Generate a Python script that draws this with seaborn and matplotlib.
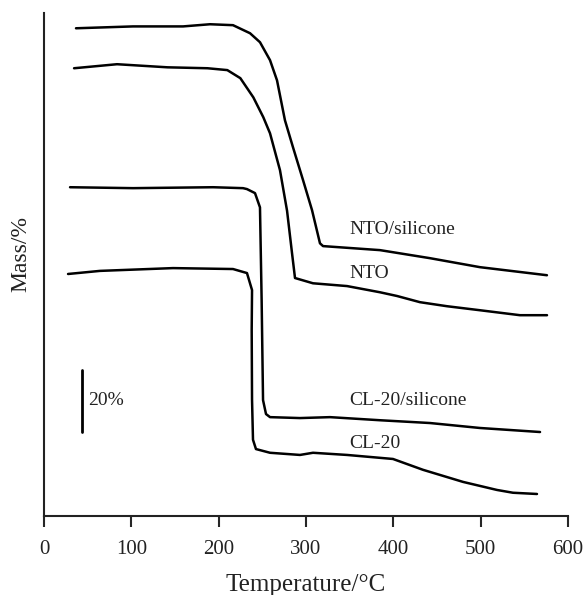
import numpy as np
import pandas as pd
import matplotlib
matplotlib.use("Agg")
import matplotlib.pyplot as plt
import seaborn as sns

# TG curves: temperature (°C) and mass (%) per sample
nto_si_temp = [36.6, 101.9, 159.2, 190.1, 216.4, 235.9, 247.3, 258.8, 266.8, 275.9,
               285.1, 296.6, 306.9, 316.0, 319.5, 384.7, 442.0, 499.2, 575.9]
nto_si_mass = [100.0, 100.6, 100.6, 101.3, 101.0, 98.4, 95.5, 89.7, 83.2, 70.3,
               61.6, 51.0, 41.3, 30.6, 29.7, 28.4, 25.8, 22.9, 20.3]

nto_temp = [34.4, 83.6, 141.4, 187.2, 209.9, 224.8, 239.7, 251.1, 258.8, 270.2,
            278.3, 284.0, 287.4, 308.0, 347.0, 384.7, 404.2, 430.5, 461.4, 499.2,
            545.0, 576.0]
nto_mass = [100.0, 101.3, 100.3, 100.0, 99.4, 96.8, 90.6, 84.2, 79.0, 67.1,
            54.0, 40.3, 32.3, 30.6, 29.7, 27.7, 26.5, 24.5, 23.2, 21.9,
            20.3, 20.3]

cl20_si_temp = [29.8, 101.9, 193.6, 227.9, 232.4, 241.6, 247.3, 249.2, 250.8, 254.2,
                258.8, 293.1, 327.5, 384.7, 442.0, 499.2, 568.0]
cl20_si_mass = [100.0, 99.7, 100.0, 99.7, 99.4, 98.1, 93.5, 63.5, 31.3, 26.8,
                25.8, 25.5, 25.8, 24.8, 23.9, 22.3, 21.0]

cl20_temp = [27.5, 64.1, 147.7, 216.4, 232.4, 238.2, 237.8, 238.2, 239.3, 242.7, 258.8,
             293.1, 308.0, 347.0, 399.6, 434.0, 479.8, 518.7, 537.0, 564.5]
cl20_mass = [100.0, 101.0, 101.9, 101.6, 100.3, 94.8, 81.9, 59.4, 46.5, 43.5, 42.3,
             41.6, 42.3, 41.6, 40.3, 36.8, 32.9, 30.3, 29.4, 29.0]

labels = ["NTO/silicone", "NTO", "CL-20/silicone", "CL-20"]
scale_bar = 20  # %

# vertical shift of each curve on the stacked plot
shifts = [57.4, 44.5, 6.1, -21.9]

curves = [(nto_si_temp, nto_si_mass), (nto_temp, nto_mass),
          (cl20_si_temp, cl20_si_mass), (cl20_temp, cl20_mass)]

sns.set_style("ticks")
plt.rcParams["font.family"] = ["Liberation Serif", "DejaVu Serif"]

fig = plt.figure(figsize=(5.87, 5.95), dpi=100)
ax = fig.add_axes([0.075, 0.1328, 0.8926, 0.8452])

for (t, m), name, dy in zip(curves, labels, shifts):
    df = pd.DataFrame({"temp": t, "mass": np.array(m) + dy})
    sns.lineplot(data=df, x="temp", y="mass", sort=False, estimator=None,
                 color="black", linewidth=1.8, ax=ax)

# curve labels
label_pos = [(350, 92.3), (350, 78.4), (350, 37.4), (350, 23.5)]
for name, (x, y) in zip(labels, label_pos):
    ax.text(x, y, name, fontsize=14, va="center", ha="left", color="#222222")

# 20 % scale bar
ax.plot([43.5, 43.5], [27.1, 27.1 + scale_bar], color="black", linewidth=2,
        solid_capstyle="round")
ax.text(50, 37.4, f"{scale_bar}%", fontsize=14, va="center", ha="left", color="#222222")

ax.set_xlim(0, 600)
ax.set_ylim(0, 162.3)
ax.set_xticks(range(0, 601, 100))
ax.set_yticks([])
ax.set_xlabel("Temperature/°C", fontsize=18, color="#222222", labelpad=11)
ax.set_ylabel("Mass/%", fontsize=17, color="#222222")
ax.yaxis.set_label_coords(-0.025, 0.52)
ax.tick_params(axis="x", direction="out", length=8, width=1.5, labelsize=15,
               labelcolor="#222222", pad=9)
sns.despine(ax=ax)
for side in ["left", "bottom"]:
    ax.spines[side].set_linewidth(1.5)
    ax.spines[side].set_color("#222222")

fig.savefig("out.png", dpi=100)
